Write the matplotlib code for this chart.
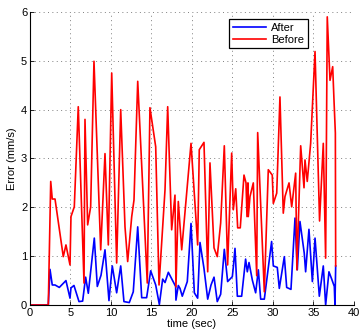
import matplotlib
matplotlib.use("Agg")
import matplotlib.pyplot as plt

# values
t_after = [0, 2.26, 2.47, 2.75, 3.09, 3.62, 4.44, 4.94, 5.06, 5.43, 6.05, 6.5, 6.87,
           7.2, 7.94, 8.31, 8.77, 9.26, 9.75, 10.16, 10.7, 11.2, 11.6, 12.26, 12.75,
           13.3, 13.79, 14.4, 14.9, 15.52, 15.97, 16.38, 16.67, 17.08, 17.98, 18.02,
           18.31, 18.52, 18.8, 19.42, 19.88, 20.29, 20.7, 20.99, 21.48, 21.94, 22.35,
           22.72, 23.12, 23.54, 23.99, 24.4, 24.98, 25.1, 25.31, 25.6, 26.13, 26.62,
           26.83, 27.04, 27.45, 27.86, 28.19, 28.48, 28.93, 29.83, 30.04, 30.53, 30.78,
           31.4, 31.69, 32.22, 32.72, 33.0, 33.33, 33.86, 34.03, 34.44, 34.86, 35.19,
           35.72, 36.21, 36.5, 36.91, 37.25, 37.57, 37.65, 37.74]
after = [0, 0, 0.73, 0.41, 0.41, 0.36, 0.5, 0.14, 0.35, 0.4, 0.07, 0.08, 0.57,
         0.24, 1.37, 0.38, 0.61, 1.13, 0.09, 0.8, 0.25, 0.8, 0.07, 0.05, 0.27,
         1.6, 0.15, 0.15, 0.7, 0.41, 0.01, 0.53, 0.46, 0.67, 0.38, 0.1,
         0.4, 0.34, 0.18, 0.48, 1.67, 0.25, 0.14, 1.28, 0.75, 0.12, 0.41,
         0.57, 0.07, 0.22, 1.14, 0.48, 0.58, 0.77, 1.16, 0.18, 0.18, 0.94,
         0.68, 0.87, 0.51, 0.25, 0.72, 0.12, 0.12, 1.3, 0.8, 0.77, 0.34,
         0.99, 0.36, 0.32, 1.78, 0.72, 1.71, 1.06, 0.68, 1.55, 0.48, 1.37,
         0.18, 0.8, 0.0, 0.68, 0.53, 0.38, 0.0, 0.8]

t_before = [0, 2.26, 2.56, 2.75, 3.09, 4.11, 4.44, 4.94, 5.06, 5.47, 5.96, 6.67, 6.79,
            7.12, 7.49, 7.9, 8.73, 9.26, 9.67, 10.09, 10.7, 11.2, 11.73, 12.06, 12.56,
            12.84, 13.3, 14.48, 14.81, 15.52, 15.93, 16.67, 17.0, 17.49, 17.9, 18.02,
            18.31, 18.73, 19.88, 20.7, 20.9, 21.48, 21.94, 22.22, 22.72, 23.12, 23.54,
            23.99, 24.4, 24.9, 25.1, 25.4, 25.64, 25.96, 26.42, 26.67, 26.79, 26.91,
            26.95, 27.16, 27.57, 27.99, 28.11, 28.93, 29.42, 29.91, 30.04, 30.46, 30.86,
            31.27, 31.48, 31.98, 32.31, 32.8, 32.95, 33.42, 33.83, 33.95, 34.23, 34.65,
            35.19, 35.75, 36.21, 36.5, 36.7, 37.04, 37.37, 37.53, 37.7, 37.74]
before = [0, 0, 2.53, 2.17, 2.17, 0.99, 1.23, 0.82, 1.81, 2.01, 4.06, 0.45, 3.8,
          1.64, 2.01, 4.99, 1.13, 3.1, 1.23, 4.75, 0.86, 4.0, 1.6, 0.89, 1.81,
          2.15, 4.58, 0.45, 4.04, 3.24, 0.41, 2.36, 4.06, 1.54, 2.25, 0.37,
          2.12, 1.13, 3.31, 1.23, 3.18, 3.33, 0.68, 2.91, 1.17, 0.99, 1.68,
          3.26, 0.82, 3.11, 1.95, 2.38, 1.58, 1.58, 2.66, 2.5, 1.81, 2.5,
          1.81, 2.22, 2.5, 0.6, 3.53, 0.27, 2.77, 2.66, 2.08, 2.29, 4.26,
          1.88, 2.22, 2.5, 2.01, 2.7, 0.72, 3.26, 2.4, 2.97, 2.53, 3.31,
          5.19, 1.72, 3.31, 0.96, 5.9, 4.6, 4.88, 4.2, 3.52, 0.8]

xticks = [0, 5, 10, 15, 20, 25, 30, 35, 40]
yticks = [0, 1, 2, 3, 4, 5, 6]

plt.rcParams['font.family'] = ['Liberation Sans', 'DejaVu Sans']
plt.rcParams['font.size'] = 8

fig = plt.figure(figsize=(3.6, 3.32), dpi=100)
ax = fig.add_axes([0.0833, 0.0813, 0.9, 0.8827])

ax.plot(t_after, after, color="#0000ff", lw=1.2, label="After")
ax.plot(t_before, before, color="#ff0000", lw=1.2, label="Before")

ax.set_xlim(0, 40)
ax.set_ylim(0, 6)
ax.set_xticks(xticks)
ax.set_yticks(yticks)
ax.grid(True, linestyle=(0, (1, 3.5)), color="0.5", lw=0.7)
ax.tick_params(direction="in", length=3, width=0.6, pad=2)

for side in ["top", "right"]:
    ax.spines[side].set_visible(False)
for side in ["left", "bottom"]:
    ax.spines[side].set_linewidth(0.8)

ax.set_xlabel("time (sec)", labelpad=1)
ax.set_ylabel("Error (mm/s)", labelpad=3)

leg = ax.legend(loc="upper left", bbox_to_anchor=(0.615, 0.975), fancybox=False,
                framealpha=1, edgecolor="black", handlelength=3.0,
                borderpad=0.3, labelspacing=0.2, handletextpad=0.5, borderaxespad=0)
leg.get_frame().set_linewidth(0.9)

fig.savefig("out.png", dpi=100)
